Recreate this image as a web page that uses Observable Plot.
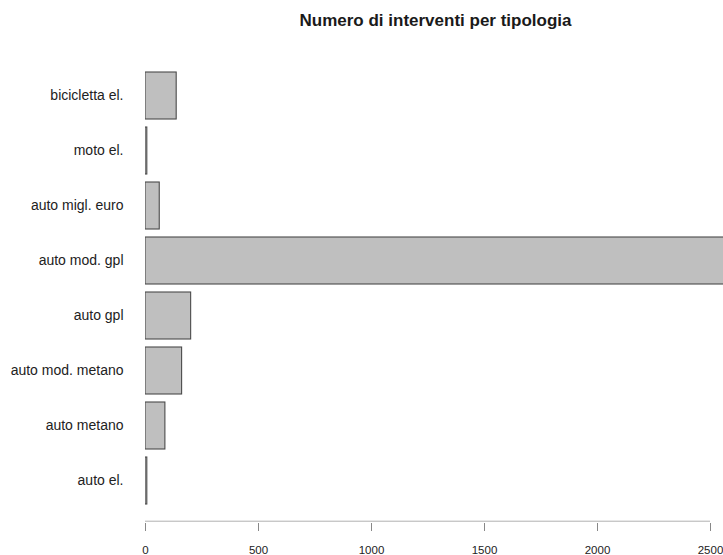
<!DOCTYPE html>
<html><head><meta charset="utf-8">
<script src="https://cdn.jsdelivr.net/npm/d3@7"></script>
<script src="https://cdn.jsdelivr.net/npm/@observablehq/plot@0.6"></script>
<style>html,body{margin:0;padding:0;background:#fff;overflow:hidden}</style>
</head><body><div id="chart"></div>
<script>
const title = "Numero di interventi per tipologia";
const categories = ["bicicletta el.", "moto el.", "auto migl. euro", "auto mod. gpl", "auto gpl", "auto mod. metano", "auto metano", "auto el."];
const counts = [138, 8, 63, 2600, 202, 162, 88, 8];
const xTicks = [0, 500, 1000, 1500, 2000, 2500];
const data = categories.map((c, i) => ({tipologia: c, n: counts[i]}));

const chart = Plot.plot({
  width: 723, height: 555,
  marginLeft: 145, marginRight: 0, marginTop: 20, marginBottom: 32,
  style: {fontFamily: '"Liberation Sans", Arial, sans-serif', background: "#fff", color: "#222"},
  x: {domain: [0, 2557.5]},
  y: {domain: categories, range: [67, 510], paddingInner: 0.145, paddingOuter: 0.0725},
  marks: [
    Plot.barX(data, {x: "n", y: "tipologia", fill: "#bfbfbf", stroke: "#4a4a4a", strokeWidth: 1.1, clip: true}),
    Plot.ruleY([categories[categories.length - 1]], {x1: xTicks[0], x2: xTicks[xTicks.length - 1], dy: 40.2, stroke: "#b0b0b0"}),
    Plot.axisX({ticks: xTicks, tickFormat: "d", tickSize: 8, tickPadding: 14.5, fontSize: 11.5, label: null, stroke: "#888"}),
    Plot.axisY({tickSize: 0, tickPadding: 22, fontSize: 14, label: null}),
    Plot.text([title], {frameAnchor: "top", lineAnchor: "middle", dx: 1, fontSize: 17, fontWeight: "bold", fill: "#1a1a1a"})
  ]
});
document.getElementById("chart").appendChild(chart);
</script>
</body></html>
